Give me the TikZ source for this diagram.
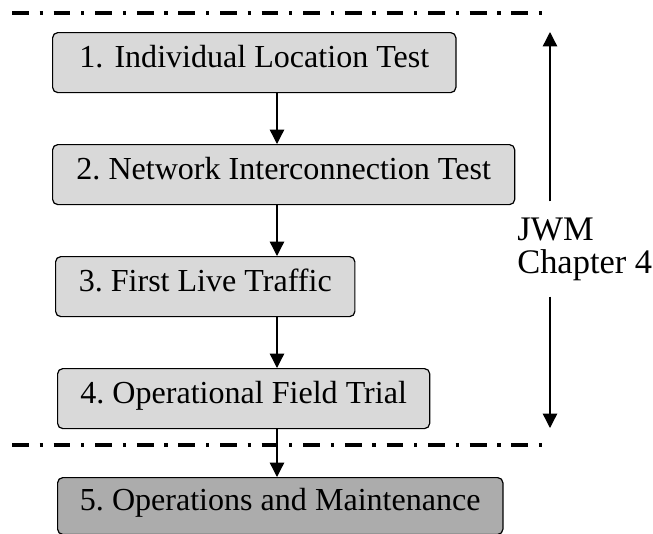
\documentclass[tikz,border=0pt]{standalone}
\usepackage{fontspec}
\setmainfont{Liberation Serif}
\newfontfamily\stagefont{Liberation Serif}
\usepackage{xcolor}
\usepackage{tikz}
\usetikzlibrary{positioning,arrows.meta}
\tikzstyle{stage_box}=[rectangle, rounded corners=0.13cm, draw=black, line width=0.85pt, fill=gray!30, minimum height=1.5cm, inner xsep=0.1cm, anchor=north west, text height=0.68em, text depth=0pt, font=\stagefont\fontsize{22.8}{26}\selectfont]
\tikzstyle{ops_box}=[stage_box, fill=gray!65]
\tikzstyle{flowArrow}=[-{Triangle[width=0.36cm, length=0.36cm]}, line width=0.95pt, black]
\tikzstyle{phaseLine}=[line width=0.085cm, dash pattern=on 0.42cm off 0.27cm on 0.08cm off 0.27cm]
\tikzstyle{side_label}=[align=left, anchor=west, inner xsep=0pt, inner ysep=0.4cm, font=\stagefont\fontsize{24.5}{23.4}\selectfont]

\begin{document}
\begin{tikzpicture}[x=0.025cm, y=-0.025cm]
        \useasboundingbox (0,0) rectangle (653,534);

        %phase borders
        \coordinate (topL) at (12,13);
        \coordinate (topR) at (552,13);
        \coordinate (botL) at (12,445);
        \coordinate (botR) at (551,445);
        \draw [style={phaseLine}] (topL) -- (topR);
        \draw [style={phaseLine}] (botL) -- (botR);

        %stages
        \node [style=stage_box, minimum width=10.08cm] (S1) at (52, 32) {1.\hspace{0.35em}Individual Location Test};
        \node [style=stage_box, minimum width=11.55cm] (S2) at (52, 144) {2.\ Network Interconnection Test};
        \node [style=stage_box, minimum width=7.48cm] (S3) at (55, 256) {3.\ First Live Traffic};
        \node [style=stage_box, minimum width=9.3cm] (S4) at (57, 368) {4.\ Operational Field Trial};
        \node [style=ops_box, minimum width=11.13cm, minimum height=1.42cm] (S5) at (57, 477) {5.\ Operations and Maintenance};

        \coordinate (flow) at (277, 0);
        \draw [style={flowArrow}] (S1.south -| flow) to (S2.north -| flow);
        \draw [style={flowArrow}] (S2.south -| flow) to (S3.north -| flow);
        \draw [style={flowArrow}] (S3.south -| flow) to (S4.north -| flow);
        \draw [style={flowArrow}] (S4.south -| flow) to (S5.north -| flow);

        %chapter span
        \node [style=side_label] (JWM) at (517, 249) {JWM\\Chapter 4};
        \coordinate (spanTop) at (550, 32);
        \coordinate (spanBot) at (550, 428);
        \draw [style={flowArrow}] (JWM.north -| spanTop) to (spanTop);
        \draw [style={flowArrow}] (JWM.south -| spanBot) to (spanBot);
\end{tikzpicture}
\end{document}
